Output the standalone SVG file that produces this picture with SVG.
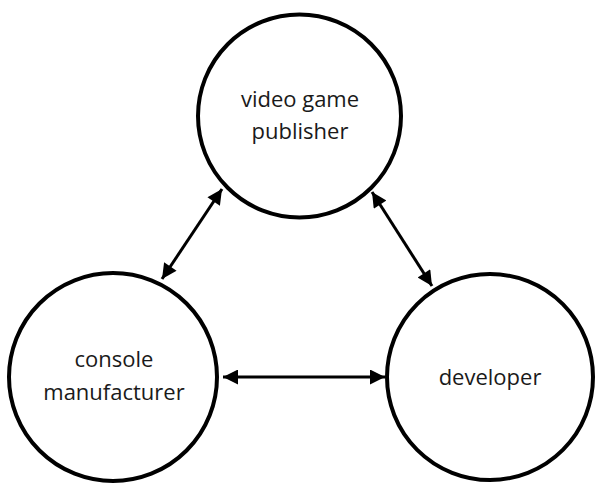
<svg xmlns="http://www.w3.org/2000/svg" width="596" height="485" viewBox="0 0 596 485">
<defs>
<marker id="ah" viewBox="0 0 10 10" refX="10" refY="5" markerWidth="5.5" markerHeight="5" orient="auto-start-reverse" markerUnits="strokeWidth">
<path d="M0,0 L10,5 L0,10 z" fill="#000"/>
</marker>
<style>
.node{fill:#fff;stroke:#000;stroke-width:4}
.lbl{font-family:"Open Sans","Liberation Sans",sans-serif;font-size:22px;fill:#1a1a1a;text-anchor:middle}
.conn{stroke:#000;stroke-width:3;fill:none;marker-start:url(#ah);marker-end:url(#ah)}
</style>
</defs>
<rect width="596" height="485" fill="#fff"/>
<g id="connectors">
<line class="conn" x1="162" y1="279" x2="222" y2="189"/>
<line class="conn" x1="372" y1="192" x2="432" y2="286"/>
<line class="conn" x1="223" y1="377" x2="385" y2="377"/>
</g>
<g id="publisher">
<circle class="node" cx="299.5" cy="116" r="101.5"/>
<text class="lbl" x="300" y="107">video game</text>
<text class="lbl" x="300" y="139">publisher</text>
</g>
<g id="console">
<circle class="node" cx="113" cy="377" r="104"/>
<text class="lbl" x="114" y="367">console</text>
<text class="lbl" x="114" y="400">manufacturer</text>
</g>
<g id="developer">
<circle class="node" cx="490" cy="377" r="103"/>
<text class="lbl" x="490" y="385">developer</text>
</g>
</svg>
